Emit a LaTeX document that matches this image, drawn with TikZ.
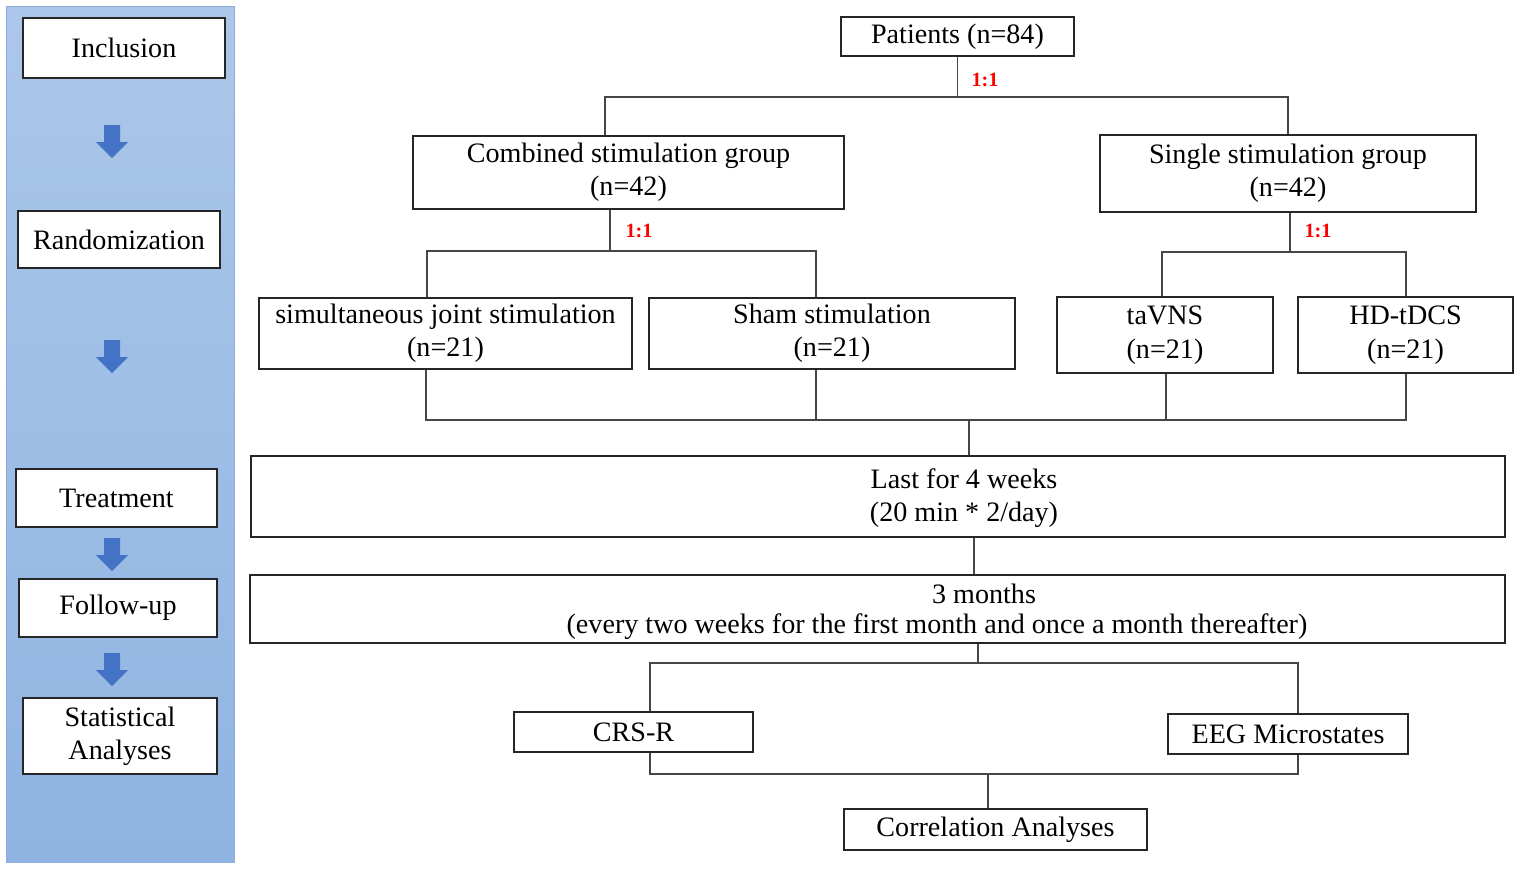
\documentclass[tikz,border=0pt]{standalone}
\usepackage{fontspec}
\setmainfont{Liberation Serif}
\definecolor{paneltop}{RGB}{172,199,233}
\definecolor{panelbot}{RGB}{143,180,226}
\definecolor{arrowblue}{RGB}{68,114,196}
\definecolor{linegray}{RGB}{70,70,70}
\tikzset{
  txt/.style={align=center, inner sep=0pt, font=\fontsize{16}{19}\selectfont},
  box/.style={txt, draw=black!85, fill=white, line width=0.7pt},
  sz/.style 2 args={minimum width=#1*0.02cm, minimum height=#2*0.02cm},
  link/.style={draw=linegray, line width=0.6pt},
  ratio/.style={text=red, font=\bfseries\fontsize{11.5}{13}\selectfont}
}
\newcommand{\blockarrow}[1]{\fill[arrowblue] (#1) ++(-8,0) -- ++(16,0) -- ++(0,17) -- ++(8,0) -- ++(-16,16) -- ++(-16,-16) -- ++(8,0) -- cycle;}
\begin{document}
\begin{tikzpicture}[x=0.02cm, y=-0.02cm]
\useasboundingbox (0,0) rectangle (1536,869);
\fill[white] (0,0) rectangle (1536,869);
% left panel
\shade[top color=paneltop, bottom color=panelbot, draw=arrowblue!60, line width=0.4pt] (6,6) rectangle (234,862);
\node[box, sz={202}{60}] (incl) at (124,48) {Inclusion};
\node[box, sz={202}{57}] (rand) at (119,239.5) {Randomization};
\node[box, sz={201}{58}] (treat) at (116.5,498) {Treatment};
\node[box, sz={198}{58}] (fup) at (118,608) {Follow-up};
\node[box, sz={194}{76}] (stat) at (120,736) {Statistical\\Analyses};
\blockarrow{112,125}
\blockarrow{112,340}
\blockarrow{112,538}
\blockarrow{112,653}
% flow chart
\node[box, sz={233}{39}] (pat) at (957.5,36.5) {Patients (n=84)};
\node[box, sz={431}{73}] (comb) at (628.5,172.5) {Combined stimulation group\\(n=42)};
\node[box, sz={376}{77}] (sing) at (1288,173.5) {Single stimulation group\\(n=42)};
\node[box, sz={373}{71}] (simu) at (445.5,333.5) {simultaneous joint stimulation\\(n=21)};
\node[box, sz={366}{71}] (sham) at (832,333.5) {Sham stimulation\\(n=21)};
\node[box, sz={216}{76}] (tavns) at (1165,335) {taVNS\\(n=21)};
\node[box, sz={215}{76}] (hd) at (1405.5,335) {HD-tDCS\\(n=21)};
\node[box, sz={1254}{81}] (four) at (878,496.5) {};
\node[txt] (fourtxt) at (964,498) {Last for 4 weeks\\(20 min * 2/day)};
\node[box, sz={1255}{68}] (three) at (877.5,609) {};
\node[txt] (threea) at (984,594) {3 months};
\node[txt] (threeb) at (937,627) {(every two weeks for the first month and once a month thereafter)};
\node[box, sz={239}{40}] (crs) at (633.5,732) {CRS-R};
\node[box, sz={240}{40}] (eeg) at (1288,734) {EEG Microstates};
\node[box, sz={303}{41}] (corr) at (995.5,829.5) {Correlation Analyses};
% junctions
\coordinate (b1l) at (605,97);
\coordinate (b1r) at (1288,97);
\coordinate (b2l) at (427,251);
\coordinate (b2m) at (610,251);
\coordinate (b2r) at (816,251);
\coordinate (b3l) at (1162,252);
\coordinate (b3m) at (1290,252);
\coordinate (b3r) at (1406,252);
\coordinate (b4l) at (426,420);
\coordinate (b4a) at (816,420);
\coordinate (b4m) at (969,420);
\coordinate (b4b) at (1166,420);
\coordinate (b4r) at (1406,420);
\coordinate (c1) at (974,556);
\coordinate (b5l) at (650,663);
\coordinate (b5m) at (978,663);
\coordinate (b5r) at (1298,663);
\coordinate (b6l) at (650,774);
\coordinate (b6m) at (988,774);
\coordinate (b6r) at (1298,774);
\draw[link] (pat.south) -- (pat.south |- b1l);
\draw[link] (comb.north -| b1l) -- (b1l) -- (b1r) -- (sing.north -| b1r);
\draw[link] (comb.south -| b2m) -- (b2m);
\draw[link] (simu.north -| b2l) -- (b2l) -- (b2r) -- (sham.north -| b2r);
\draw[link] (sing.south -| b3m) -- (b3m);
\draw[link] (tavns.north -| b3l) -- (b3l) -- (b3r) -- (hd.north -| b3r);
\draw[link] (simu.south -| b4l) -- (b4l) -- (b4r) -- (hd.south -| b4r);
\draw[link] (sham.south -| b4a) -- (b4a);
\draw[link] (tavns.south -| b4b) -- (b4b);
\draw[link] (b4m) -- (four.north -| b4m);
\draw[link] (four.south -| c1) -- (three.north -| c1);
\draw[link] (three.south -| b5m) -- (b5m);
\draw[link] (crs.north -| b5l) -- (b5l) -- (b5r) -- (eeg.north -| b5r);
\draw[link] (crs.south -| b6l) -- (b6l) -- (b6r) -- (eeg.south -| b6r);
\draw[link] (b6m) -- (corr.north -| b6m);
% ratios
\node[ratio] (r1) at (985,80) {1:1};
\node[ratio] (r2) at (639,231) {1:1};
\node[ratio] (r3) at (1318,231) {1:1};
\end{tikzpicture}
\end{document}
